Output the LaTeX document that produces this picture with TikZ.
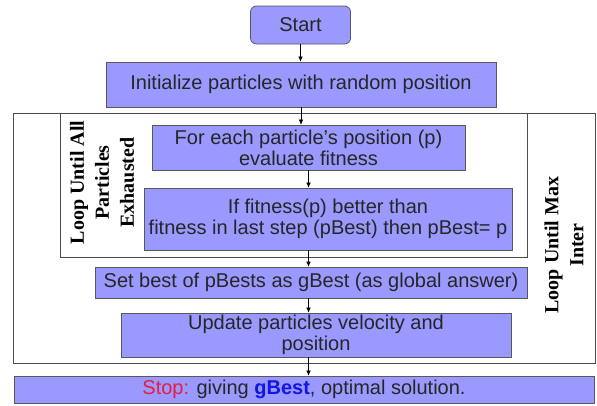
\documentclass[tikz,border=0pt]{standalone}
\usepackage{fontspec}
\setmainfont{Liberation Serif}
\setsansfont{Liberation Sans}
\usetikzlibrary{positioning, arrows.meta}
\definecolor{boxblue}{RGB}{153,153,255}
\definecolor{stopred}{RGB}{230,30,60}
\definecolor{gbestblue}{RGB}{20,20,230}
\tikzset{
    >={Latex[length=5pt,width=4.5pt]}, % small filled arrow heads
    stepbox/.style={draw=black!65, fill=boxblue, line width=0.8pt, inner sep=0pt, align=center, text=black!85, font=\sffamily\fontsize{20}{21}\selectfont}, % every process box
    loopframe/.style={draw=black!70, line width=0.8pt, inner sep=0pt}, % the loop borders
    looplabel/.style={rotate=90, align=center, font=\bfseries\fontsize{20}{25}\selectfont}, % the rotated loop texts
}

\begin{document}
\begin{tikzpicture}[x=1pt, y=-1pt]
    \useasboundingbox (0,0) rectangle (597,405);
    \node[loopframe, minimum width=582, minimum height=250] (maxloop) at (304,238) {};
    \node[loopframe, minimum width=467, minimum height=144] (partloop) at (293.5,185) {};
    \node[stepbox, rounded corners=6pt, minimum width=100, minimum height=38] (start) at (300.5,25) {Start};
    \node[stepbox, minimum width=390, minimum height=45] (init) at (301,84.5) {Initialize particles with random position};
    \node[stepbox, minimum width=313, minimum height=45] (evalfit) at (308.5,147.5) {For each particle's position (p)\\evaluate fitness};
    \node[stepbox, minimum width=368, minimum height=62] (pbest) at (328,219) {If fitness(p) better than\\fitness in last step (pBest) then pBest= p};
    \node[stepbox, minimum width=432, minimum height=31] (gbest) at (311,282.5) {Set best of pBests as gBest (as global answer)};
    \node[stepbox, minimum width=390, minimum height=44] (update) at (316,335) {Update particles velocity and\\position};
    \node[stepbox, minimum width=580, minimum height=27] (stop) at (304,389.5) {\textcolor{stopred}{Stop:} giving \textcolor{gbestblue}{\textbf{gBest}}, optimal solution.};
    \node[looplabel] (alllabel) at (102,182.5) {Loop Until All\\Particles\\Exhausted};
    \node[looplabel] (maxlabel) at (564,245) {Loop Until Max\\Inter};
    \draw[->] (start.south) -- (start.south |- init.north);
    \draw[->] (init.south) -- (init.south |- evalfit.north);
    \draw[->] (evalfit.south) -- (evalfit.south |- pbest.north);
    \draw[->] (evalfit.south |- pbest.south) -- (evalfit.south |- gbest.north);
    \draw[->] (evalfit.south |- gbest.south) -- (evalfit.south |- update.north);
    \draw[->] (evalfit.south |- update.south) -- (evalfit.south |- stop.north);
\end{tikzpicture}
\end{document}
